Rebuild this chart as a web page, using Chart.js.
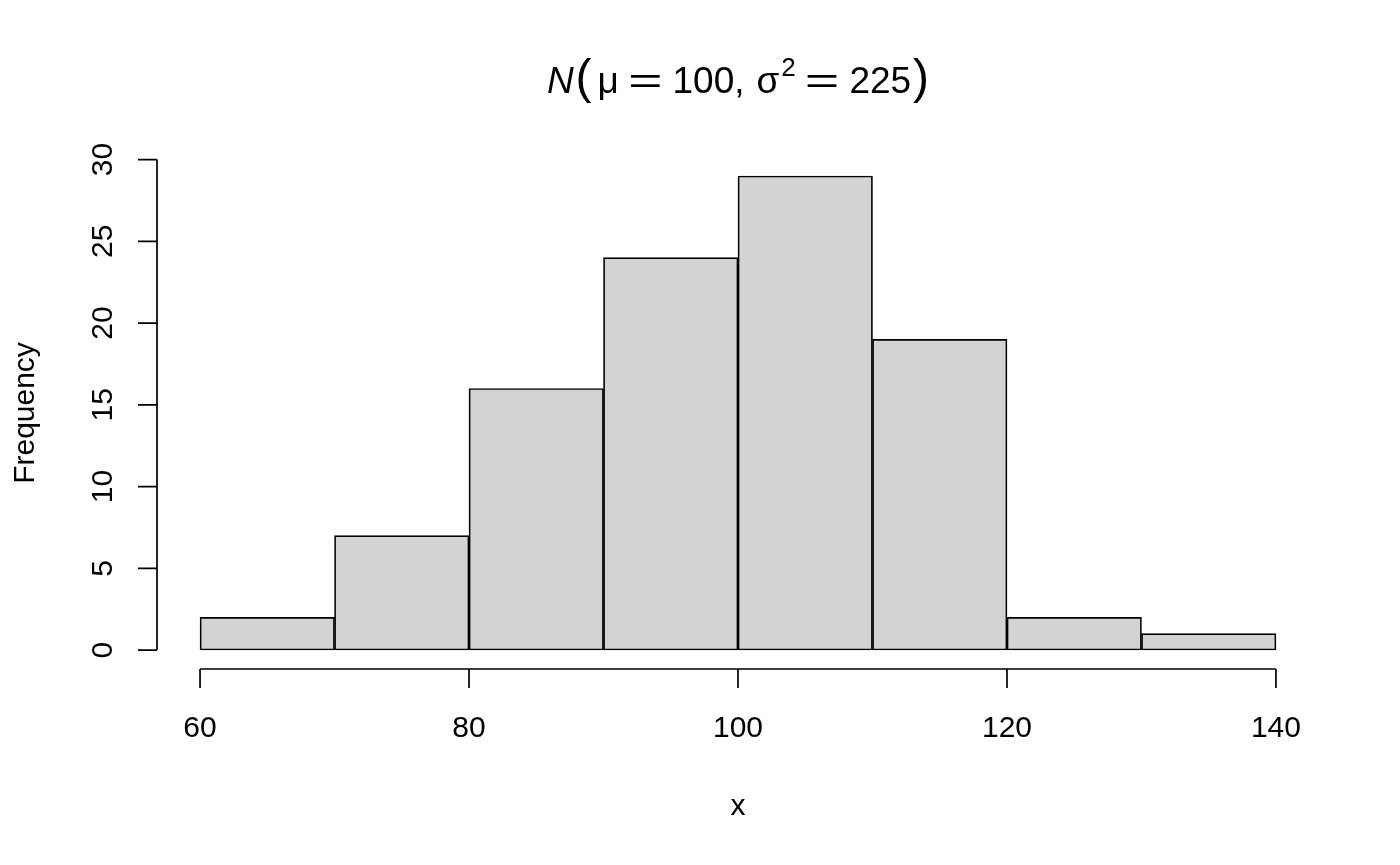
<!DOCTYPE html>
<html>
<head>
<meta charset="utf-8">
<script src="https://cdn.jsdelivr.net/npm/chart.js@4.4.1/dist/chart.umd.min.js"></script>
<style>
  html, body { margin: 0; padding: 0; background: #fff; }
  #wrap { width: 1400px; height: 865px; position: relative; }
</style>
</head>
<body>
<div id="wrap"><canvas id="histo"></canvas></div>
<script>
// dados do histograma
const binEdges = [60, 70, 80, 90, 100, 110, 120, 130, 140];
const counts = [2, 7, 16, 24, 29, 19, 2, 1];
const xTicks = [60, 80, 100, 120, 140];
const yTicks = [0, 5, 10, 15, 20, 25, 30];

const fontFam = '"Liberation Sans", Arial, Helvetica, sans-serif';

// centro de cada classe
const barData = counts.map((c, i) => ({ x: (binEdges[i] + binEdges[i + 1]) / 2, y: c }));

// eixos no estilo R + titulos
const rAxes = {
  id: 'rAxes',
  afterDraw(chart) {
    const c = chart.ctx;
    const xs = chart.scales.x, ys = chart.scales.y;
    const area = chart.chartArea;
    c.save();
    c.strokeStyle = '#000';
    c.fillStyle = '#000';
    c.lineWidth = 1.7;

    // eixo x
    const xb = area.bottom;
    c.beginPath();
    c.moveTo(xs.getPixelForValue(xTicks[0]), xb);
    c.lineTo(xs.getPixelForValue(xTicks[xTicks.length - 1]), xb);
    xTicks.forEach(t => {
      const px = xs.getPixelForValue(t);
      c.moveTo(px, xb);
      c.lineTo(px, xb + 19);
    });
    c.stroke();
    c.font = '30px ' + fontFam;
    c.textAlign = 'center';
    c.textBaseline = 'alphabetic';
    xTicks.forEach(t => c.fillText(String(t), xs.getPixelForValue(t), 737));

    // eixo y
    const xl = area.left;
    c.beginPath();
    c.moveTo(xl, ys.getPixelForValue(yTicks[0]));
    c.lineTo(xl, ys.getPixelForValue(yTicks[yTicks.length - 1]));
    yTicks.forEach(t => {
      const py = ys.getPixelForValue(t);
      c.moveTo(xl, py);
      c.lineTo(xl - 19, py);
    });
    c.stroke();
    yTicks.forEach(t => {
      c.save();
      c.translate(112, ys.getPixelForValue(t));
      c.rotate(-Math.PI / 2);
      c.fillText(String(t), 0, 0);
      c.restore();
    });

    // rotulos dos eixos
    const midX = (area.left + area.right) / 2;
    const midY = (area.top + area.bottom) / 2;
    c.fillText('x', midX, 815);
    c.save();
    c.translate(34, midY);
    c.rotate(-Math.PI / 2);
    c.fillText('Frequency', 0, 0);
    c.restore();

    // titulo: N(μ = 100, σ² = 225)
    const f = 37, big = 48, sup = 26;
    const parts = [
      { t: 'N', f: 'italic ' + f + 'px ' + fontFam, gap: 0 },
      { t: '(', f: big + 'px ' + fontFam, gap: 2 },
      { t: 'μ', f: f + 'px ' + fontFam, gap: 6 },
      { t: '=', f: f + 'px ' + fontFam, gap: 9, sx: 1.6 },
      { t: '100,', f: f + 'px ' + fontFam, gap: 10 },
      { t: 'σ', f: f + 'px ' + fontFam, gap: 12 },
      { t: '2', f: sup + 'px ' + fontFam, gap: 2, dy: -17 },
      { t: '=', f: f + 'px ' + fontFam, gap: 9, sx: 1.6 },
      { t: '225', f: f + 'px ' + fontFam, gap: 10 },
      { t: ')', f: big + 'px ' + fontFam, gap: 2 }
    ];
    let total = 0;
    parts.forEach(p => {
      c.font = p.f;
      p.w = c.measureText(p.t).width * (p.sx || 1);
      total += p.gap + p.w;
    });
    let x0 = midX - total / 2;
    c.textAlign = 'left';
    parts.forEach(p => {
      c.font = p.f;
      x0 += p.gap;
      c.save();
      c.translate(x0, 93 + (p.dy || 0));
      c.scale(p.sx || 1, 1);
      c.fillText(p.t, 0, 0);
      c.restore();
      x0 += p.w;
    });
    c.restore();
  }
};

const ctx = document.getElementById('histo').getContext('2d');
const grafico = new Chart(ctx, {
  type: 'bar',
  data: {
    datasets: [{
      data: barData,
      backgroundColor: '#D3D3D3',
      borderColor: '#000000',
      borderWidth: 1.7,
      borderSkipped: false,
      barPercentage: 1,
      categoryPercentage: 1
    }]
  },
  options: {
    responsive: true,
    maintainAspectRatio: false,
    animation: false,
    layout: { padding: { left: 157, right: 81, top: 157, bottom: 196 } },
    plugins: { legend: { display: false }, tooltip: { enabled: false } },
    scales: {
      x: {
        type: 'linear', min: 56.8, max: 143.2, offset: false, display: false,
        grid: { offset: false },
        ticks: { stepSize: 10, includeBounds: false }
      },
      y: { min: -1.16, max: 30.16, display: false }
    }
  },
  plugins: [rAxes]
});
</script>
</body>
</html>
